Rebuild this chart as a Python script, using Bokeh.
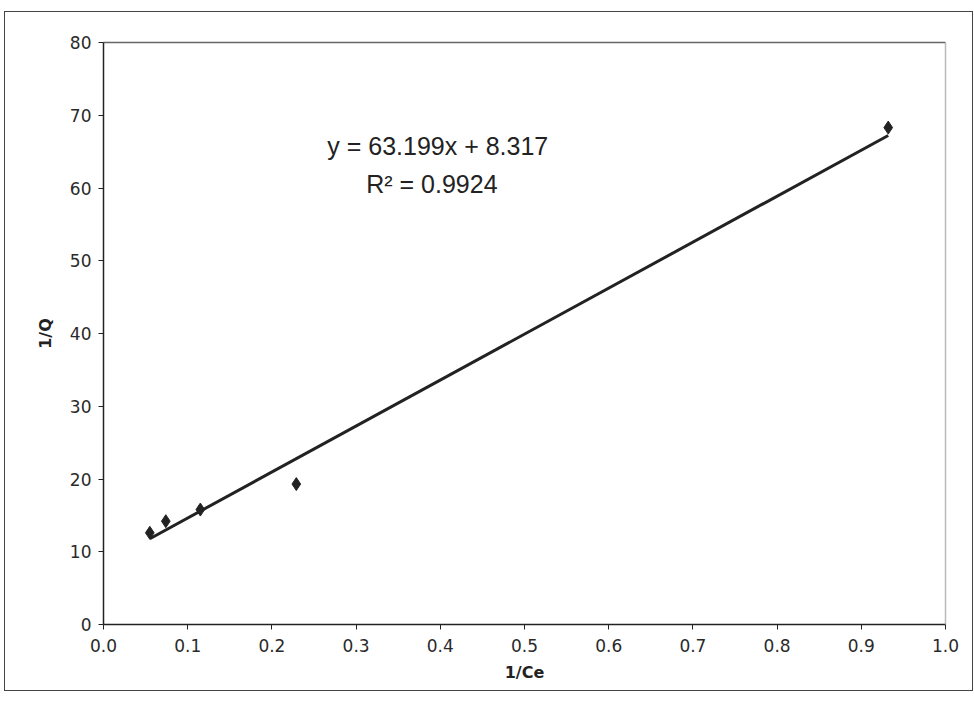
from bokeh.plotting import figure
from bokeh.models import Range1d, LinearAxis, Label, FixedTicker, CustomJSTickFormatter
from bokeh.embed import file_html
from bokeh.resources import INLINE

# data
inv_ce = [0.055, 0.074, 0.115, 0.229, 0.932]
inv_q = [12.6, 14.2, 15.8, 19.3, 68.3]
slope = 63.199
intercept = 8.317
eq_text = "y = 63.199x + 8.317"
r2_text = "R\u00b2 = 0.9924"
x_ticks = [0.0, 0.1, 0.2, 0.3, 0.4, 0.5, 0.6, 0.7, 0.8, 0.9, 1.0]
y_ticks = [0, 10, 20, 30, 40, 50, 60, 70, 80]

TICK_FONT = "DejaVu Sans"

p = figure(width=969, height=680, output_backend="svg", toolbar_location=None,
           x_range=Range1d(0, 1.0), y_range=Range1d(0, 80),
           min_border_left=98, min_border_right=29, min_border_top=30, min_border_bottom=68,
           background_fill_color="white", border_fill_color="white")
p.styles = {"border": "1px solid #444", "margin-left": "4px", "margin-top": "11px"}
p.outline_line_color = None
p.xgrid.visible = False
p.ygrid.visible = False

for ax, ticks in ((p.xaxis[0], x_ticks), (p.yaxis[0], y_ticks)):
    ax.ticker = FixedTicker(ticks=ticks)
    ax.axis_line_color = "#222"
    ax.axis_line_width = 1.5
    ax.major_tick_line_color = "#222"
    ax.major_tick_out = 5
    ax.major_tick_in = 0
    ax.minor_tick_line_color = None
    ax.major_label_text_font = TICK_FONT
    ax.major_label_text_font_size = "17px"
    ax.major_label_text_color = "#2a2a2a"
    ax.axis_label_text_font = TICK_FONT
    ax.axis_label_text_font_style = "bold"
    ax.axis_label_text_font_size = "16px"
    ax.axis_label_text_color = "#222"

p.xaxis[0].formatter = CustomJSTickFormatter(code="return tick.toFixed(1);")
p.xaxis[0].major_label_standoff = 9
p.xaxis[0].axis_label = "1/Ce"
p.xaxis[0].axis_label_standoff = 8
p.yaxis[0].axis_label = "1/Q"
p.yaxis[0].major_label_standoff = 7
p.yaxis[0].axis_label_standoff = 12

top = LinearAxis(ticker=FixedTicker(ticks=[]), major_label_text_font_size="0px",
                 axis_line_color="#666", axis_line_width=1.5,
                 major_tick_line_color=None, minor_tick_line_color=None)
right = LinearAxis(ticker=FixedTicker(ticks=[]), major_label_text_font_size="0px",
                   axis_line_color="#777", axis_line_width=1.5, axis_line_dash="1 1",
                   major_tick_line_color=None, minor_tick_line_color=None)
p.add_layout(top, "above")
p.add_layout(right, "right")
p.min_border_right = 29

# trendline
x0, x1 = min(inv_ce), max(inv_ce)
p.line([x0, x1], [slope * x0 + intercept, slope * x1 + intercept],
       line_color="#222", line_width=3)
p.scatter(inv_ce, inv_q, marker="diamond", size=13, fill_color="#222", line_color="#222")

p.add_layout(Label(x=0.397, y=65.8, text=eq_text, text_align="center", text_baseline="middle",
                   text_font="Liberation Sans", text_font_size="25px", text_color="#222"))
p.add_layout(Label(x=0.39, y=60.5, text=r2_text, text_align="center", text_baseline="middle",
                   text_font="Liberation Sans", text_font_size="25px", text_color="#222"))

open("out.html", "w").write(file_html(p, INLINE))
